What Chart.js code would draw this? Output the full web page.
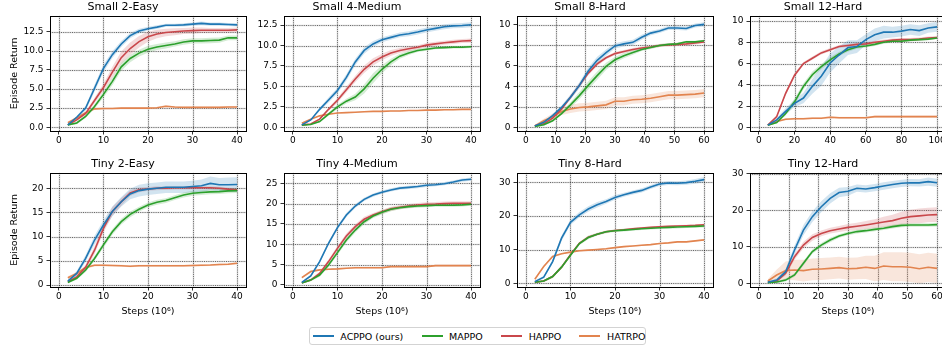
<!DOCTYPE html>
<html>
<head>
<meta charset="utf-8">
<script src="https://cdn.jsdelivr.net/npm/chart.js@4.4.1/dist/chart.umd.min.js"></script>
<style>
html,body{margin:0;padding:0;width:942px;height:350px;overflow:hidden;background:#fff;position:relative;font-family:"DejaVu Sans",sans-serif;}
canvas{position:absolute;}
#legend{position:absolute;left:309px;top:327px;width:337px;height:18px;border:1px solid #d3d3d3;border-radius:3px;box-sizing:border-box;background:#fff;}
.lg-line{position:absolute;height:2px;width:21px;}
.lg-text{position:absolute;font-size:9.5px;line-height:12px;color:#000;white-space:nowrap;}
</style>
</head>
<body>
<div id="legend"></div>
<script>
// ---------------- data ----------------
const methods = ['ACPPO (ours)', 'MAPPO', 'HAPPO', 'HATRPO'];
const titles = ['Small 2-Easy', 'Small 4-Medium', 'Small 8-Hard', 'Small 12-Hard',
                'Tiny 2-Easy', 'Tiny 4-Medium', 'Tiny 8-Hard', 'Tiny 12-Hard'];

const steps40  = [2,4,6,8,10,12,14,16,18,20,22,24,26,28,30,32,34,36,38,40];
const steps60  = [3,6,9,12,15,18,21,24,27,30,33,36,39,42,45,48,51,54,57,60];
const steps100 = [5,10,15,20,25,30,35,40,45,50,55,60,65,70,75,80,85,90,95,100];

const xTicks40 = [0,10,20,30,40];
const xTicks60 = [0,10,20,30,40,50,60];
const xTicks100 = [0,20,40,60,80,100];

// Small 2-Easy
const small2_acppo  = [0.3,1.3,2.5,5.1,7.7,9.5,10.9,12.0,12.6,12.9,13.1,13.35,13.35,13.4,13.5,13.6,13.5,13.5,13.45,13.4];
const small2_mappo  = [0.3,0.55,1.4,2.7,4.3,6.0,7.9,9.0,9.7,10.2,10.5,10.7,10.9,11.15,11.3,11.3,11.35,11.4,11.7,11.7];
const small2_happo  = [0.3,0.95,1.8,3.5,5.2,7.2,9.1,10.3,11.2,11.85,12.2,12.4,12.5,12.6,12.65,12.7,12.7,12.7,12.7,12.75];
const small2_hatrpo = [0.6,1.2,1.9,2.4,2.45,2.45,2.5,2.5,2.5,2.5,2.55,2.75,2.65,2.6,2.6,2.6,2.6,2.6,2.65,2.65];
const small2_acppo_sd  = [0.1,0.2,0.3,0.45,0.5,0.45,0.4,0.35,0.3,0.25,0.25,0.2,0.2,0.2,0.2,0.25,0.2,0.2,0.2,0.2];
const small2_mappo_sd  = [0.1,0.15,0.2,0.3,0.4,0.5,0.5,0.5,0.45,0.45,0.4,0.4,0.35,0.35,0.35,0.35,0.35,0.35,0.3,0.3];
const small2_happo_sd  = [0.1,0.15,0.25,0.35,0.5,0.7,0.8,0.8,0.75,0.65,0.55,0.5,0.45,0.4,0.4,0.35,0.3,0.3,0.3,0.3];
const small2_hatrpo_sd = [0.15,0.15,0.15,0.15,0.1,0.1,0.1,0.1,0.1,0.1,0.1,0.15,0.1,0.1,0.1,0.1,0.1,0.1,0.1,0.1];
const small2_yTicks = [0,2.5,5,7.5,10,12.5];

// Small 4-Medium
const small4_acppo  = [0.3,0.9,2.2,3.35,4.5,6.1,8.0,9.4,10.2,10.7,11.0,11.3,11.45,11.65,11.9,12.1,12.3,12.4,12.45,12.55];
const small4_mappo  = [0.25,0.35,0.7,1.6,2.5,3.2,3.7,4.7,6.0,7.1,8.0,8.7,9.1,9.4,9.55,9.7,9.75,9.8,9.8,9.85];
const small4_happo  = [0.3,0.4,1.0,2.2,3.3,4.6,5.9,7.1,8.0,8.6,9.1,9.4,9.6,9.8,10.05,10.2,10.35,10.45,10.55,10.6];
const small4_hatrpo = [0.5,1.0,1.4,1.6,1.75,1.8,1.85,1.9,1.95,1.95,2.0,2.0,2.05,2.05,2.1,2.1,2.15,2.15,2.2,2.2];
const small4_acppo_sd  = [0.05,0.1,0.2,0.3,0.35,0.4,0.4,0.4,0.35,0.3,0.3,0.3,0.3,0.3,0.3,0.3,0.3,0.3,0.3,0.3];
const small4_mappo_sd  = [0.05,0.05,0.1,0.2,0.25,0.3,0.4,0.55,0.6,0.5,0.4,0.3,0.25,0.2,0.2,0.15,0.15,0.15,0.15,0.15];
const small4_happo_sd  = [0.05,0.05,0.1,0.2,0.3,0.35,0.4,0.45,0.45,0.4,0.35,0.3,0.3,0.25,0.25,0.25,0.25,0.25,0.25,0.25];
const small4_hatrpo_sd = [0.1,0.08,0.06,0.06,0.06,0.06,0.06,0.06,0.06,0.06,0.06,0.06,0.06,0.06,0.06,0.06,0.06,0.06,0.06,0.06];
const small4_yTicks = [0,2.5,5,7.5,10,12.5];

// Small 8-Hard
const small8_acppo  = [0.15,0.5,1.15,1.95,2.95,4.1,5.5,6.55,7.3,7.95,8.15,8.3,8.8,9.2,9.4,9.7,9.7,9.65,9.95,10.05];
const small8_mappo  = [0.1,0.25,0.65,1.35,2.2,3.1,4.1,5.05,5.95,6.6,7.0,7.3,7.6,7.8,8.0,8.1,8.15,8.35,8.35,8.45];
const small8_happo  = [0.15,0.35,0.9,1.8,2.95,4.1,5.3,6.2,6.8,7.2,7.4,7.6,7.75,7.85,8.0,8.05,8.1,8.15,8.25,8.35];
const small8_hatrpo = [0.15,0.65,1.05,1.55,1.8,1.95,2.0,2.1,2.2,2.55,2.55,2.7,2.75,2.85,3.0,3.15,3.15,3.2,3.25,3.35];
const small8_acppo_sd  = [0.05,0.1,0.15,0.2,0.25,0.3,0.35,0.35,0.3,0.25,0.25,0.25,0.25,0.2,0.2,0.2,0.2,0.2,0.2,0.2];
const small8_mappo_sd  = [0.05,0.1,0.1,0.15,0.25,0.35,0.4,0.4,0.35,0.3,0.25,0.2,0.15,0.15,0.15,0.1,0.1,0.1,0.1,0.1];
const small8_happo_sd  = [0.05,0.1,0.15,0.2,0.2,0.2,0.2,0.2,0.15,0.15,0.15,0.15,0.15,0.15,0.15,0.15,0.15,0.15,0.15,0.15];
const small8_hatrpo_sd = [0.1,0.2,0.3,0.35,0.4,0.4,0.4,0.4,0.4,0.4,0.4,0.4,0.4,0.4,0.4,0.4,0.4,0.4,0.4,0.4];
const small8_yTicks = [0,2,4,6,8,10];

// Small 12-Hard
const small12_acppo  = [0.2,0.7,1.5,2.25,2.75,3.85,4.8,6.05,6.8,7.5,7.6,8.25,8.7,8.95,8.95,9.05,9.2,9.1,9.35,9.45];
const small12_mappo  = [0.2,0.45,1.3,2.4,3.85,4.95,5.7,6.35,6.9,7.3,7.55,7.65,7.8,8.0,8.1,8.1,8.2,8.25,8.3,8.4];
const small12_happo  = [0.2,1.0,3.2,4.9,6.0,6.5,7.0,7.3,7.6,7.7,7.8,7.85,8.0,8.1,8.2,8.25,8.25,8.3,8.4,8.45];
const small12_hatrpo = [0.2,0.55,0.75,0.8,0.8,0.85,0.85,0.95,0.9,0.9,0.9,0.9,1.0,1.0,1.0,1.0,1.0,1.0,1.0,1.0];
const small12_acppo_sd  = [0.1,0.2,0.3,0.35,0.5,0.7,0.9,0.9,0.8,0.7,0.6,0.5,0.6,0.6,0.5,0.5,0.5,0.5,0.45,0.45];
const small12_mappo_sd  = [0.05,0.1,0.2,0.3,0.3,0.3,0.25,0.25,0.2,0.2,0.15,0.15,0.15,0.15,0.1,0.1,0.1,0.1,0.1,0.1];
const small12_happo_sd  = [0.05,0.1,0.2,0.2,0.15,0.15,0.15,0.15,0.15,0.15,0.15,0.15,0.15,0.15,0.15,0.15,0.15,0.15,0.15,0.15];
const small12_hatrpo_sd = [0.05,0.1,0.1,0.1,0.1,0.1,0.1,0.1,0.1,0.1,0.1,0.1,0.1,0.1,0.1,0.1,0.1,0.1,0.1,0.1];
const small12_yTicks = [0,2,4,6,8,10];

// Tiny 2-Easy
const tiny2_acppo  = [0.8,2.4,5.5,9.3,12.4,15.2,17.2,18.8,19.5,19.8,20.0,20.2,20.2,20.2,20.35,20.5,21.0,20.7,20.7,20.75];
const tiny2_mappo  = [0.55,1.4,3.1,5.5,8.3,11.0,13.1,14.6,15.65,16.55,17.1,17.45,18.05,18.6,18.95,19.1,19.25,19.3,19.45,19.5];
const tiny2_happo  = [0.7,1.7,3.65,7.2,11.7,15.2,17.2,19.0,19.65,19.85,20.0,20.0,20.1,20.1,20.1,20.1,20.1,20.0,19.8,19.65];
const tiny2_hatrpo = [1.5,2.4,3.65,4.1,4.1,4.05,4.0,3.9,4.0,4.0,4.0,4.0,4.0,4.0,4.05,4.1,4.15,4.25,4.3,4.5];
const tiny2_acppo_sd  = [0.3,0.5,0.7,0.9,1.0,1.0,1.0,1.1,1.2,1.2,1.2,1.2,1.2,1.2,1.2,1.3,1.4,1.4,1.5,1.5];
const tiny2_mappo_sd  = [0.2,0.3,0.4,0.5,0.6,0.6,0.6,0.6,0.5,0.5,0.5,0.5,0.5,0.5,0.5,0.5,0.5,0.5,0.5,0.5];
const tiny2_happo_sd  = [0.3,0.4,0.6,0.8,0.9,0.9,0.8,0.6,0.5,0.4,0.4,0.3,0.3,0.3,0.3,0.3,0.3,0.3,0.3,0.3];
const tiny2_hatrpo_sd = [0.3,0.3,0.3,0.25,0.2,0.2,0.2,0.2,0.2,0.2,0.2,0.2,0.2,0.2,0.2,0.2,0.2,0.2,0.2,0.2];
const tiny2_yTicks = [0,5,10,15,20];

// Tiny 4-Medium
const tiny4_acppo  = [0.65,2.2,5.75,10.25,14.1,17.2,19.4,21.05,22.1,22.8,23.35,23.8,24.0,24.2,24.5,24.65,24.9,25.3,25.8,26.0];
const tiny4_mappo  = [0.5,1.2,2.45,4.9,7.95,11.05,13.5,15.55,16.95,17.85,18.6,19.0,19.25,19.4,19.5,19.6,19.6,19.6,19.7,19.85];
const tiny4_happo  = [0.55,1.2,2.85,5.75,9.0,12.05,14.35,16.15,17.2,18.0,18.7,19.1,19.4,19.65,19.85,19.9,20.0,20.1,20.1,20.1];
const tiny4_hatrpo = [1.8,3.3,3.7,3.85,3.95,4.1,4.25,4.25,4.25,4.25,4.5,4.5,4.5,4.5,4.5,4.75,4.75,4.75,4.75,4.75];
const tiny4_acppo_sd  = [0.2,0.3,0.4,0.5,0.5,0.5,0.5,0.4,0.4,0.4,0.4,0.4,0.4,0.4,0.4,0.4,0.4,0.4,0.4,0.4];
const tiny4_mappo_sd  = [0.2,0.3,0.4,0.5,0.6,0.6,0.6,0.6,0.5,0.5,0.5,0.4,0.4,0.4,0.4,0.4,0.4,0.4,0.4,0.4];
const tiny4_happo_sd  = [0.2,0.3,0.4,0.5,0.6,0.6,0.6,0.6,0.5,0.5,0.5,0.5,0.5,0.5,0.5,0.5,0.5,0.5,0.5,0.5];
const tiny4_hatrpo_sd = [0.3,0.3,0.2,0.2,0.2,0.2,0.2,0.2,0.2,0.2,0.2,0.2,0.2,0.2,0.2,0.2,0.2,0.2,0.2,0.2];
const tiny4_yTicks = [0,5,10,15,20,25];

// Tiny 8-Hard
const tiny8_acppo  = [0.5,1.8,6.45,13.4,18.1,20.35,22.05,23.35,24.3,25.5,26.3,27.0,27.6,28.6,29.5,29.8,29.7,29.9,30.3,30.8];
const tiny8_mappo  = [0.3,0.7,2.0,4.8,8.3,11.8,13.6,14.6,15.3,15.6,15.8,16.0,16.2,16.35,16.5,16.6,16.7,16.8,16.9,17.0];
const tiny8_happo  = [0.3,0.7,2.0,4.8,8.45,11.9,13.7,14.6,15.3,15.7,15.9,16.2,16.4,16.6,16.8,16.9,17.0,17.1,17.2,17.4];
const tiny8_hatrpo = [1.2,5.0,7.95,8.75,9.25,9.65,9.85,10.05,10.25,10.6,10.9,11.1,11.3,11.5,11.8,12.0,12.3,12.3,12.6,12.9];
const tiny8_acppo_sd  = [0.3,0.4,0.6,0.8,0.8,0.8,0.8,0.8,0.7,0.7,0.6,0.6,0.6,0.6,0.6,0.6,0.6,0.6,0.7,0.8];
const tiny8_mappo_sd  = [0.2,0.3,0.4,0.5,0.5,0.5,0.5,0.4,0.4,0.4,0.4,0.4,0.4,0.4,0.4,0.4,0.4,0.4,0.4,0.4];
const tiny8_happo_sd  = [0.2,0.3,0.4,0.4,0.4,0.4,0.4,0.3,0.3,0.3,0.3,0.3,0.3,0.3,0.3,0.3,0.3,0.3,0.3,0.3];
const tiny8_hatrpo_sd = [0.3,0.3,0.3,0.2,0.2,0.2,0.2,0.2,0.2,0.2,0.2,0.2,0.2,0.2,0.2,0.2,0.2,0.2,0.2,0.2];
const tiny8_yTicks = [0,10,20,30];

// Tiny 12-Hard
const tiny12_acppo  = [0.3,0.9,3.2,9.15,14.6,18.3,21.0,23.3,24.9,25.25,26.1,25.9,26.25,26.7,27.1,27.45,27.6,27.55,27.9,27.6];
const tiny12_mappo  = [0.2,0.35,0.9,2.3,5.5,8.7,10.5,11.9,13.0,13.7,14.2,14.45,14.8,15.1,15.55,15.9,16.0,16.0,16.0,16.1];
const tiny12_happo  = [0.3,0.65,2.75,7.3,10.5,12.6,13.7,14.45,14.9,15.35,15.65,16.0,16.4,16.85,17.2,17.85,18.3,18.5,18.75,18.85];
const tiny12_hatrpo = [0.65,2.3,3.5,3.65,3.5,3.85,3.95,4.1,4.3,4.0,4.1,4.4,4.1,4.75,4.55,4.55,4.4,4.0,4.4,4.1];
const tiny12_acppo_sd  = [0.3,0.5,0.8,1.2,1.4,1.5,1.5,1.4,1.3,1.2,1.0,1.0,1.0,1.0,1.0,1.0,1.0,1.0,1.1,1.1];
const tiny12_mappo_sd  = [0.2,0.3,0.4,0.5,0.6,0.6,0.6,0.6,0.5,0.5,0.5,0.5,0.5,0.5,0.5,0.5,0.5,0.5,0.5,0.5];
const tiny12_happo_sd  = [0.2,0.3,0.6,0.8,0.9,0.9,0.8,0.8,0.8,0.9,1.0,1.1,1.2,1.4,1.6,1.8,1.9,2.0,2.0,2.0];
const tiny12_hatrpo_sd = [0.5,1.5,2.5,2.8,3.0,3.0,3.0,3.0,3.0,3.0,3.0,3.2,3.5,3.8,4.0,4.0,4.0,4.0,4.0,4.0];
const tiny12_yTicks = [0,10,20,30];

// ---------------- style / layout ----------------
const colors = ['#1f77b4', '#2ca02c', '#c9474b', '#e2844f'];
const FONT = '"DejaVu Sans", sans-serif';

const panels = [
  {steps: steps40,  xt: xTicks40,  xr: [-2, 42],  yr: [-0.5, 14.6],  yt: small2_yTicks,
   s: [small2_acppo, small2_mappo, small2_happo, small2_hatrpo],
   sd: [small2_acppo_sd, small2_mappo_sd, small2_happo_sd, small2_hatrpo_sd], dec: 1},
  {steps: steps40,  xt: xTicks40,  xr: [-2, 42],  yr: [-0.45, 13.65], yt: small4_yTicks,
   s: [small4_acppo, small4_mappo, small4_happo, small4_hatrpo],
   sd: [small4_acppo_sd, small4_mappo_sd, small4_happo_sd, small4_hatrpo_sd], dec: 1},
  {steps: steps60,  xt: xTicks60,  xr: [-3, 63],  yr: [-0.35, 10.9], yt: small8_yTicks,
   s: [small8_acppo, small8_mappo, small8_happo, small8_hatrpo],
   sd: [small8_acppo_sd, small8_mappo_sd, small8_happo_sd, small8_hatrpo_sd], dec: 0},
  {steps: steps100, xt: xTicks100, xr: [-5, 105], yr: [-0.35, 10.5], yt: small12_yTicks,
   s: [small12_acppo, small12_mappo, small12_happo, small12_hatrpo],
   sd: [small12_acppo_sd, small12_mappo_sd, small12_happo_sd, small12_hatrpo_sd], dec: 0},
  {steps: steps40,  xt: xTicks40,  xr: [-2, 42],  yr: [-0.4, 23.2], yt: tiny2_yTicks,
   s: [tiny2_acppo, tiny2_mappo, tiny2_happo, tiny2_hatrpo],
   sd: [tiny2_acppo_sd, tiny2_mappo_sd, tiny2_happo_sd, tiny2_hatrpo_sd], dec: 0},
  {steps: steps40,  xt: xTicks40,  xr: [-2, 42],  yr: [-0.5, 27.6], yt: tiny4_yTicks,
   s: [tiny4_acppo, tiny4_mappo, tiny4_happo, tiny4_hatrpo],
   sd: [tiny4_acppo_sd, tiny4_mappo_sd, tiny4_happo_sd, tiny4_hatrpo_sd], dec: 0},
  {steps: steps40,  xt: xTicks40,  xr: [-2, 42],  yr: [-1.1, 32.85], yt: tiny8_yTicks,
   s: [tiny8_acppo, tiny8_mappo, tiny8_happo, tiny8_hatrpo],
   sd: [tiny8_acppo_sd, tiny8_mappo_sd, tiny8_happo_sd, tiny8_hatrpo_sd], dec: 0},
  {steps: steps60,  xt: xTicks60,  xr: [-3, 63],  yr: [-1.0, 30.35], yt: tiny12_yTicks,
   s: [tiny12_acppo, tiny12_mappo, tiny12_happo, tiny12_hatrpo],
   sd: [tiny12_acppo_sd, tiny12_mappo_sd, tiny12_happo_sd, tiny12_hatrpo_sd], dec: 0}
];

const COL_L = [50, 284, 517, 750];
const PLOT_W = 196;
const Y_AXIS_W = 50;
const RIGHT_PAD = 8;
const ROW_TOP = [0, 157];
const ROW_XH = [18, 33];
const TITLE_H = 15.7;
const ROW_PLOT_H = [115.3, 114.3];

function rgba(hex, a) {
  const n = parseInt(hex.slice(1), 16);
  return `rgba(${(n >> 16) & 255},${(n >> 8) & 255},${n & 255},${a})`;
}

const framePlugin = {
  id: 'mplFrame',
  beforeDatasetsDraw(chart) {
    const {ctx, chartArea: a, scales} = chart;
    const segs = [];
    scales.x.ticks.forEach(t => {
      const p = Math.round(scales.x.getPixelForValue(t.value)) + 0.5;
      segs.push([p, a.top, p, a.bottom]);
    });
    scales.y.ticks.forEach(t => {
      const p = Math.round(scales.y.getPixelForValue(t.value)) + 0.5;
      segs.push([a.left, p, a.right, p]);
    });
    ctx.save();
    ctx.beginPath(); ctx.rect(a.left, a.top, a.right - a.left, a.bottom - a.top); ctx.clip();
    ctx.setLineDash([]);
    ctx.strokeStyle = 'rgba(0,0,0,0.13)'; ctx.lineWidth = 1.6;
    segs.forEach(s => { ctx.beginPath(); ctx.moveTo(s[0], s[1]); ctx.lineTo(s[2], s[3]); ctx.stroke(); });
    ctx.setLineDash([1, 1.2]);
    ctx.strokeStyle = 'rgba(0,0,0,0.6)'; ctx.lineWidth = 0.9;
    segs.forEach(s => { ctx.beginPath(); ctx.moveTo(s[0], s[1]); ctx.lineTo(s[2], s[3]); ctx.stroke(); });
    ctx.restore();
  },
  afterDatasetsDraw(chart) {
    const {ctx, chartArea: a} = chart;
    ctx.save();
    ctx.strokeStyle = '#000'; ctx.lineWidth = 1;
    ctx.strokeRect(Math.round(a.left) + 0.5, Math.round(a.top) + 0.5,
                   Math.round(a.right - a.left), Math.round(a.bottom - a.top));
    ctx.restore();
  }
};

panels.forEach((p, idx) => {
  const col = idx % 4, row = Math.floor(idx / 4);
  const w = Y_AXIS_W + PLOT_W + RIGHT_PAD;
  const h = TITLE_H + ROW_PLOT_H[row] + ROW_XH[row];
  const cv = document.createElement('canvas');
  cv.width = w; cv.height = Math.round(h);
  cv.style.left = (COL_L[col] - Y_AXIS_W) + 'px';
  cv.style.top = ROW_TOP[row] + 'px';
  cv.style.width = w + 'px'; cv.style.height = Math.round(h) + 'px';
  document.body.appendChild(cv);

  const datasets = [];
  p.s.forEach((vals, m) => {
    const sd = p.sd[m];
    datasets.push({
      data: p.steps.map((x, i) => ({x, y: vals[i] - sd[i]})),
      borderWidth: 0, borderColor: 'rgba(0,0,0,0)', pointRadius: 0, fill: false, order: 10 + m
    });
    datasets.push({
      data: p.steps.map((x, i) => ({x, y: vals[i] + sd[i]})),
      borderWidth: 0, borderColor: 'rgba(0,0,0,0)', pointRadius: 0,
      fill: '-1', backgroundColor: rgba(colors[m], 0.2), order: 10 + m
    });
  });
  p.s.forEach((vals, m) => {
    datasets.push({
      label: methods[m],
      data: p.steps.map((x, i) => ({x, y: vals[i]})),
      borderColor: colors[m], borderWidth: 1.6, pointRadius: 0, fill: false,
      tension: 0, order: m
    });
  });

  new Chart(cv, {
    type: 'line',
    data: {datasets},
    plugins: [framePlugin],
    options: {
      responsive: false, animation: false, devicePixelRatio: 1,
      layout: {padding: {left: 0, right: RIGHT_PAD, top: 0, bottom: 0}},
      plugins: {
        legend: {display: false}, tooltip: {enabled: false},
        title: {display: true, text: titles[idx], color: '#000',
                font: {family: FONT, size: 11, weight: 'normal', lineHeight: 1.2},
                padding: {top: 1, bottom: 1.5}}
      },
      scales: {
        x: {
          type: 'linear', min: p.xr[0], max: p.xr[1],
          border: {display: false},
          grid: {display: true, drawOnChartArea: false, drawTicks: true, tickLength: 3.5,
                 tickColor: '#000', tickWidth: 0.8},
          afterBuildTicks: s => { s.ticks = p.xt.map(v => ({value: v})); },
          ticks: {font: {family: FONT, size: 9}, color: '#000', padding: 1,
                  maxRotation: 0, autoSkip: false, callback: v => String(v)},
          title: {display: row === 1, text: 'Steps (10\u2076)', color: '#000',
                  font: {family: FONT, size: 9.5}, padding: {top: 0, bottom: 2.6}},
          afterFit: s => { s.height = ROW_XH[row]; s.paddingLeft = 0; s.paddingRight = 0; }
        },
        y: {
          type: 'linear', min: p.yr[0], max: p.yr[1],
          border: {display: false},
          grid: {display: true, drawOnChartArea: false, drawTicks: true, tickLength: 3.5,
                 tickColor: '#000', tickWidth: 0.8},
          afterBuildTicks: s => { s.ticks = p.yt.map(v => ({value: v})); },
          ticks: {font: {family: FONT, size: 9}, color: '#000', padding: 3,
                  autoSkip: false, callback: v => Number(v).toFixed(p.dec)},
          title: {display: col === 0, text: 'Episode Return', color: '#000',
                  font: {family: FONT, size: 9.5}, padding: {top: 8.5, bottom: 0}},
          afterFit: s => { s.width = Y_AXIS_W; s.paddingTop = 0; s.paddingBottom = 0; }
        }
      }
    }
  });
});

// legend (HTML, built from the method names and colours)
const LG_LINE_X = [2.7, 111.7, 191, 268.7];
const LG_TEXT_X = [30.3, 139, 218.7, 297];
const lg = document.getElementById('legend');
methods.forEach((name, m) => {
  const ln = document.createElement('div');
  ln.className = 'lg-line';
  ln.style.left = LG_LINE_X[m] + 'px'; ln.style.top = '7.3px';
  ln.style.background = colors[m];
  lg.appendChild(ln);
  const tx = document.createElement('div');
  tx.className = 'lg-text';
  tx.style.left = LG_TEXT_X[m] + 'px'; tx.style.top = '2.5px';
  tx.textContent = name;
  lg.appendChild(tx);
});
</script>
</body>
</html>
